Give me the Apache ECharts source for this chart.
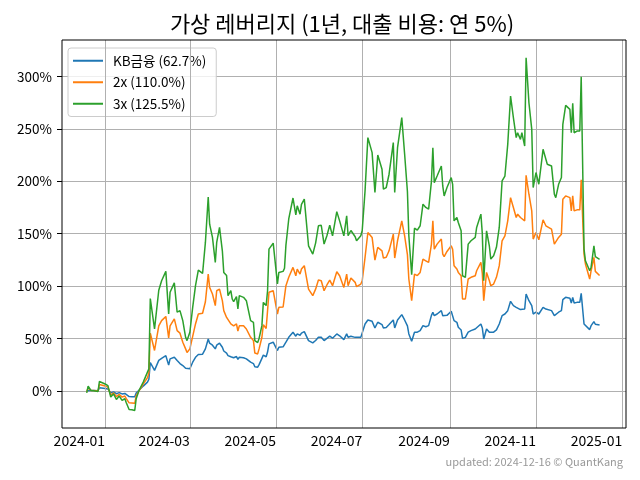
<!DOCTYPE html>
<html><head><meta charset="utf-8">
<script src="https://cdn.jsdelivr.net/npm/echarts@6/dist/echarts.min.js"></script>
<style>html,body{margin:0;padding:0;background:#fff}#c{width:640px;height:480px}</style>
</head><body><div id="c"></div>
<script>
const dates = [
'2023-12-19','2023-12-20','2023-12-22','2023-12-24','2023-12-27','2023-12-28',
'2024-01-01','2024-01-03','2024-01-05','2024-01-07','2024-01-09','2024-01-11','2024-01-13','2024-01-15','2024-01-16','2024-01-18','2024-01-20','2024-01-22','2024-01-23','2024-01-25','2024-01-28','2024-01-31',
'2024-02-01','2024-02-02','2024-02-05','2024-02-08','2024-02-10','2024-02-13','2024-02-15','2024-02-16','2024-02-19','2024-02-21','2024-02-23','2024-02-25','2024-02-27','2024-02-28',
'2024-03-01','2024-03-03','2024-03-05','2024-03-07','2024-03-10','2024-03-11','2024-03-12','2024-03-14','2024-03-15','2024-03-17','2024-03-19','2024-03-20','2024-03-22','2024-03-24','2024-03-25','2024-03-27','2024-03-28','2024-03-30','2024-03-31',
'2024-04-01','2024-04-03','2024-04-04','2024-04-05','2024-04-08','2024-04-10','2024-04-11','2024-04-13','2024-04-15','2024-04-16','2024-04-18','2024-04-19','2024-04-21','2024-04-22','2024-04-24','2024-04-25','2024-04-26','2024-04-29',
'2024-05-02','2024-05-03','2024-05-06','2024-05-07','2024-05-08','2024-05-10','2024-05-13','2024-05-15','2024-05-16','2024-05-18','2024-05-19','2024-05-21','2024-05-24','2024-05-27','2024-05-29','2024-05-31',
'2024-06-02','2024-06-04','2024-06-06','2024-06-08','2024-06-10','2024-06-11','2024-06-13','2024-06-15','2024-06-18','2024-06-20','2024-06-21','2024-06-23','2024-06-26','2024-06-27','2024-06-30',
'2024-07-01','2024-07-03','2024-07-05','2024-07-08','2024-07-10','2024-07-12','2024-07-15','2024-07-16','2024-07-18','2024-07-20','2024-07-23','2024-07-24','2024-07-26','2024-07-29','2024-07-31',
'2024-08-02','2024-08-03','2024-08-05','2024-08-07','2024-08-09','2024-08-11','2024-08-13','2024-08-15','2024-08-17','2024-08-19','2024-08-20','2024-08-21','2024-08-23','2024-08-26','2024-08-27','2024-08-28','2024-08-30',
'2024-09-02','2024-09-03','2024-09-04','2024-09-06','2024-09-07','2024-09-09','2024-09-10','2024-09-12','2024-09-14','2024-09-16','2024-09-19','2024-09-20','2024-09-23','2024-09-24','2024-09-25','2024-09-27','2024-09-29','2024-09-30',
'2024-10-02','2024-10-04','2024-10-06','2024-10-08','2024-10-10','2024-10-12','2024-10-14','2024-10-16','2024-10-18','2024-10-19','2024-10-21','2024-10-22','2024-10-24','2024-10-25','2024-10-27','2024-10-29','2024-10-30',
'2024-11-01','2024-11-03','2024-11-06','2024-11-08','2024-11-09','2024-11-12','2024-11-14','2024-11-15','2024-11-17','2024-11-19','2024-11-20','2024-11-22','2024-11-25','2024-11-26','2024-11-27','2024-11-28','2024-11-30',
'2024-12-02','2024-12-03','2024-12-05','2024-12-06','2024-12-09','2024-12-10','2024-12-12','2024-12-13','2024-12-16'
];
const kbValues = [
0,1.5,0.3,0.3,0,3,
2.3,1.8,-2,-1,-2.8,-1.7,-3,-2.5,-3.8,-5.5,-5.6,-5.6,-2.2,0.5,4.5,8.3,
11,27,19.5,29,31,33.5,24.5,30.5,32,28.9,26,24.1,21.5,20,
21,27.3,32,34.6,35,35.2,40,49.5,45.4,43.5,40,43.5,45.4,41.6,38,36,33.6,32.5,31.4,
31.5,32.7,30,32,31.5,30.5,29.5,27.3,26,23,22.5,25,31,34,32.5,37,44.8,46.4,
38.4,41.6,42,42.5,46.4,51.1,55.9,52.1,54.3,53,55,56.5,47.9,45.7,48,51.1,
51.1,47.9,50,52.1,50.2,50,54.3,52.5,48.9,54.3,51.1,52,51,49.5,51,
52.7,63.8,67.6,66.3,60,65.4,63.2,60,60.5,63.2,67.6,60,67.6,72.7,67.6,
62,54.3,47.3,55.9,56,57.4,62.2,61.2,62.2,72,75,71.7,73.3,76.5,71.7,70,72,
75.9,74,67,65.4,60.6,58.1,50,51,56,57.4,59,60.6,63.8,60,49.5,59,55.9,54.9,
56,58.1,63.8,71.7,73.3,76.5,85.4,81.3,79.7,78.1,77.5,79,78.1,92.4,86,81.3,73.3,
75,73.3,79.7,78,77.4,76.5,71.7,70.8,75,76.5,87,89.2,88.3,83.8,89.2,83.8,84.4,
84.4,93,63.8,62.2,58.4,62.2,66,63.5,62.7
];
const x2Values = [
-1,3,0.3,0.2,-0.3,6,
4.5,3.5,-4,-2,-5.5,-3.4,-6,-5,-7.5,-11.5,-11.7,-11.9,-4.8,0,6.5,12.5,
17,55,38.5,62,67,71,50.5,62,68.6,57.4,55,46.4,40,36.5,
40,52,63.8,73.3,74,75,85,111.4,98.7,92.4,81.3,95.5,97,86,76.5,70,68.6,63.8,62.2,
62,63.8,57,62,62,59,57.4,51,47.9,36,35.2,40,51.1,63,59.5,76.5,94,95.5,
73.3,79.7,80,80.6,100.3,108.3,117.8,109.8,116.2,111.4,116.2,119.4,97.1,90.8,97,105.7,
105,95.5,101,105.7,100.3,100.5,113.6,109.8,98.7,111.4,100.3,107.6,103.5,99.4,101.9,
105,127.3,151.1,146.4,124.8,136.9,133.6,126.7,127.5,133.6,149.5,126.7,143.2,162.2,148,
130,106.7,86,111.4,110,113,125.7,124.1,122.5,140,162.2,135.2,140,144.8,130.5,128,133,
138.4,135,119.4,116.2,113,109.8,87.6,87.6,106.7,108.3,109.8,114.6,122.5,112,86,113,105,100.3,
101.9,108.3,119.4,143.2,147.9,162.2,184.4,175,165.4,168.6,165.4,167,162.2,205.7,187.6,171.7,144.8,
151.1,144.1,163.2,157.5,156,154.3,140,138.4,146.4,149.5,182.9,186,184.4,171.7,186,171.7,172.7,
172.7,201.3,130.5,121,106.7,114.6,127.3,114,110.0
];
const x3Values = [
-2,4.5,0.3,0,-0.6,8.9,
6.5,5,-6,-2.9,-8.3,-5,-9.2,-7.6,-11.4,-17.8,-18.1,-18.7,-7.6,0.3,8.3,17.8,
21,88,59,96,105,114,73.3,94,103,75,76.5,67,51.1,47.9,
55.9,79.7,100.3,115.2,112,112,141.6,185,159,146.4,122.5,141.6,155.9,133.6,113,110,90.8,95.5,87.6,
85,89.8,78.1,90.8,89.2,86,79.7,67,65.4,47.9,46,50,62.2,84.4,81.3,95.5,135.2,141,
102,113,114,117,139,164,184,168,176.5,168.6,178,182.9,138.4,130.5,141,157.5,
158,140,148,158,147.9,146,171,162.2,147.9,167,148,153,147,143.2,148,
153,190.8,241.6,227.3,189.2,225,211.4,192.4,194,206.7,236.9,189.2,232,260.7,226.3,
190,148,110.8,155.2,153.3,157.5,178.1,175,173.3,200,232,198.7,205,214.6,195.5,186,194,
203.5,197.1,162.2,165.4,160.7,152.7,109.8,108.3,140,143.2,146.4,155.9,168.6,150,105,152.7,138,125.7,
128.9,136.9,155.9,200.3,205,235.2,281.3,260.7,241.6,246.3,240,246.3,233.6,317.8,274.9,249.5,194,
208.3,197.1,230.5,221,216.2,214.6,187.6,184.4,197.1,203.5,254.3,272.4,268.6,246.3,274.3,246.3,247.9,
247.9,299.7,135.2,124.1,114.6,118,138.4,128,125.5
];
const seriesNames = ['KB금융 (62.7%)', '2x (110.0%)', '3x (125.5%)'];
const seriesColors = ['#1f77b4', '#ff7f0e', '#2ca02c'];
const xTickDates = ['2024-01-01','2024-03-01','2024-05-01','2024-07-01','2024-09-01','2024-11-01','2025-01-01'];
const yTicks = [0, 50, 100, 150, 200, 250, 300];
const titleText = '가상 레버리지 (1년, 대출 비용: 연 5%)';
const footerText = 'updated: 2024-12-16 © QuantKang';

const FONT = '"Noto Sans CJK KR", "Noto Sans", sans-serif';
const toTime = d => +new Date(d + 'T00:00:00');
const chart = echarts.init(document.getElementById('c'), null, {renderer: 'canvas'});
const xTickTimes = xTickDates.map(toTime);
const allSeries = [kbValues, x2Values, x3Values].map((vals, k) => ({
  name: seriesNames[k],
  type: 'line',
  showSymbol: false,
  symbol: 'none',
  color: seriesColors[k],
  lineStyle: {width: 1.5, color: seriesColors[k]},
  data: dates.map((d, i) => [toTime(d), vals[i]]),
  z: 3 + k
}));
allSeries.push({
  name: 'xgrid', type: 'line', data: [], z: 1, silent: true,
  markLine: {
    silent: true, symbol: ['none', 'none'], label: {show: false},
    lineStyle: {color: '#b0b0b0', width: 1, type: 'solid'},
    emphasis: {disabled: true},
    data: xTickTimes.map(t => ({xAxis: t}))
  }
});
chart.setOption({
  animation: false,
  backgroundColor: '#fff',
  title: {
    text: titleText, left: 337, top: 8, textAlign: 'center',
    textStyle: {fontFamily: FONT, fontSize: 22, fontWeight: 'normal', color: '#000'}
  },
  grid: {left: 62, right: 14, top: 40, bottom: 52, show: true, borderColor: '#000', borderWidth: 1, backgroundColor: 'transparent', z: 10},
  legend: {
    orient: 'vertical', left: 68, top: 48,
    data: seriesNames,
    icon: 'rect', itemWidth: 30, itemHeight: 2, itemGap: 8,
    padding: [6, 10, 6, 5],
    backgroundColor: 'rgba(255,255,255,0.8)', borderColor: '#cccccc', borderWidth: 1, borderRadius: 3,
    textStyle: {fontFamily: FONT, fontSize: 13.5, color: '#000', padding: [0, 0, 0, 5]}
  },
  xAxis: {
    type: 'value',
    min: +new Date('2023-12-01T12:00:00'),
    max: +new Date('2025-01-03T17:00:00'),
    axisLine: {show: false},
    axisTick: {show: true, length: 5, customValues: xTickTimes, lineStyle: {color: '#000', width: 1}},
    axisLabel: {
      customValues: xTickTimes, align: 'right', margin: 6,
      fontFamily: FONT, fontSize: 14, color: '#000',
      formatter: v => { const d = new Date(v); return d.getFullYear() + '-' + String(d.getMonth() + 1).padStart(2, '0'); }
    },
    splitLine: {show: false}
  },
  yAxis: {
    type: 'value',
    min: -35.5, max: 334.8,
    splitNumber: 7, minInterval: 50, maxInterval: 50,
    axisLine: {show: false},
    axisTick: {show: true, length: 5, customValues: yTicks, lineStyle: {color: '#000', width: 1}},
    axisLabel: {
      customValues: yTicks, margin: 10,
      fontFamily: FONT, fontSize: 13.5, color: '#000',
      formatter: v => v + '%'
    },
    splitLine: {show: true, lineStyle: {color: '#b0b0b0', width: 1}}
  },
  graphic: [{
    type: 'text', right: 17, top: 456,
    style: {text: footerText, fontFamily: FONT, fontSize: 11, fill: '#999', textAlign: 'right'}
  }],
  series: allSeries
});
</script>
</body></html>
